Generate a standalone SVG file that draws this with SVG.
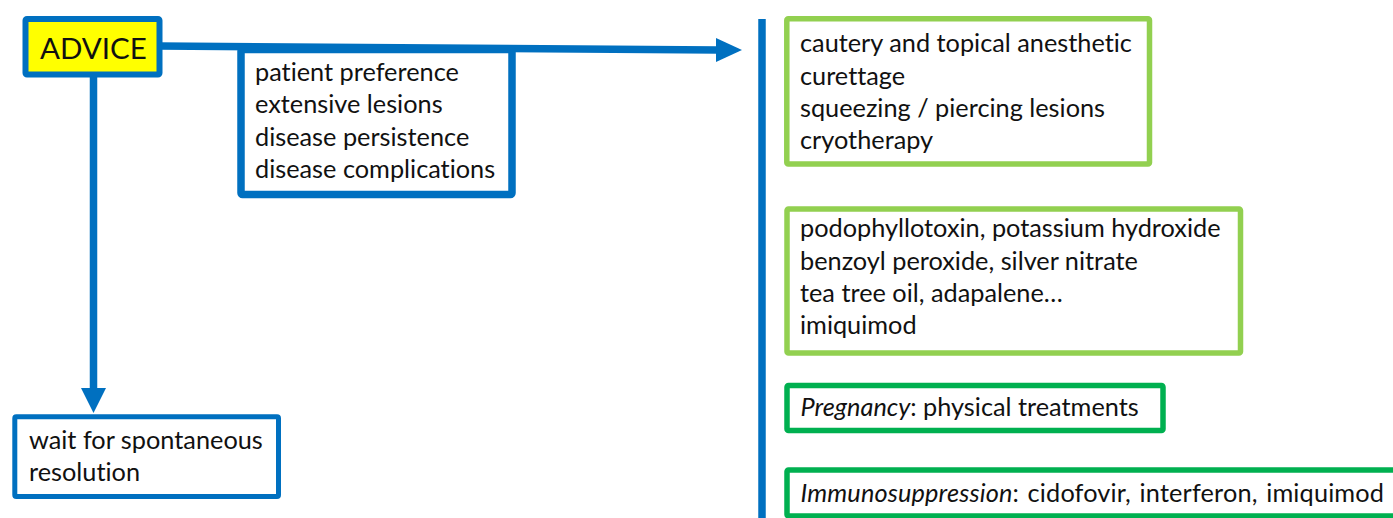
<svg xmlns="http://www.w3.org/2000/svg" width="1393" height="518" viewBox="0 0 1393 518">
<style>
text{font-family:Lato,"Liberation Sans",sans-serif;font-size:25.3px;fill:#111;font-variant-ligatures:none;font-feature-settings:"liga" 0,"clig" 0}
.blue{fill:#fff;stroke:#0070C0}
.lg{fill:#fff;stroke:#92D050;stroke-width:5.5}
.dg{fill:#fff;stroke:#00B050;stroke-width:5.5}
.conn{stroke:#0070C0;stroke-width:7.5;fill:none}
.head{fill:#0070C0}
</style>
<rect width="1393" height="518" fill="#fff"/>
<g id="connectors">
<line class="conn" x1="159" y1="46" x2="718" y2="50"/>
<polygon class="head" points="716,38 742,50 716,62"/>
<line class="conn" x1="93.5" y1="74" x2="93.5" y2="390"/>
<polygon class="head" points="81,388 106,388 93.5,413"/>
<line class="conn" x1="762" y1="19" x2="762" y2="518"/>
</g>
<g id="advice">
<rect x="25.5" y="19" width="134" height="55.5" rx="1.5" fill="#FFFF00" stroke="#0070C0" stroke-width="6"/>
<text x="40" y="58.5" style="font-size:29.5px">ADVICE</text>
</g>
<g id="criteria">
<rect class="blue" x="241" y="49.5" width="271" height="145" rx="1.5" stroke-width="7.5"/>
<text x="255" y="81">patient preference</text>
<text x="255" y="113.3">extensive lesions</text>
<text x="255" y="145.5">disease persistence</text>
<text x="255" y="177.8">disease complications</text>
</g>
<g id="wait">
<rect class="blue" x="14.8" y="416.7" width="263.7" height="79.8" rx="1.5" stroke-width="5"/>
<text x="29" y="448.8">wait for spontaneous</text>
<text x="29" y="480.5">resolution</text>
</g>
<g id="physical">
<rect class="lg" x="786.8" y="18.8" width="362.7" height="145.2" rx="1.5"/>
<text x="800" y="52.2">cautery and topical anesthetic</text>
<text x="800" y="84.5">curettage</text>
<text x="800" y="116.8">squeezing / piercing lesions</text>
<text x="800" y="149.1">cryotherapy</text>
</g>
<g id="topical">
<rect class="lg" x="787" y="209" width="453.5" height="144" rx="1.5"/>
<text x="800" y="237.2">podophyllotoxin, potassium hydroxide</text>
<text x="800" y="269.5">benzoyl peroxide, silver nitrate</text>
<text x="800" y="301.5">tea tree oil, adapalene…</text>
<text x="800" y="333.8">imiquimod</text>
</g>
<g id="pregnancy">
<rect class="dg" x="787" y="385.5" width="376" height="45" rx="1.5"/>
<text x="800.5" y="415.5"><tspan font-style="italic">Pregnancy</tspan>: physical treatments</text>
</g>
<g id="immuno">
<rect class="dg" x="787" y="470" width="620" height="46" rx="1.5"/>
<text x="800.5" y="502" style="word-spacing:2px;letter-spacing:0.15px"><tspan font-style="italic">Immunosuppression</tspan>: cidofovir, interferon, imiquimod</text>
</g>
</svg>
